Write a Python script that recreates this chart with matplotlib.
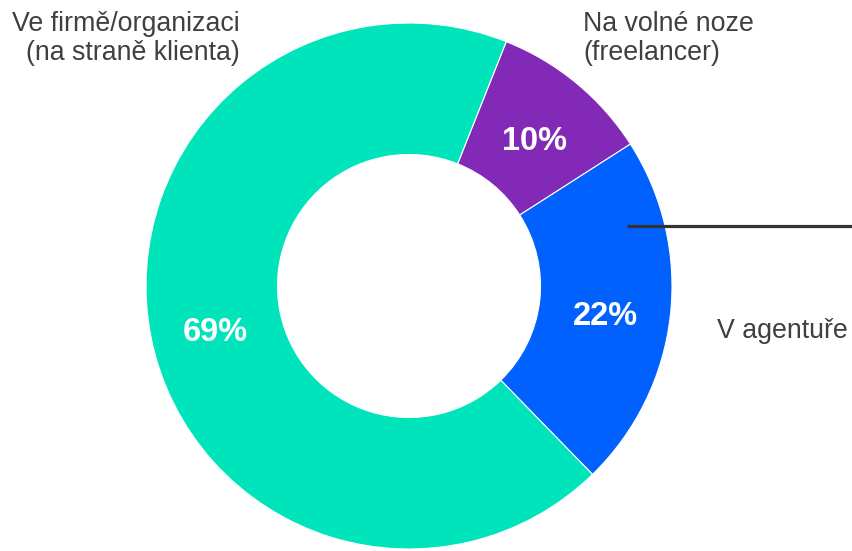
import matplotlib
matplotlib.use("Agg")
from matplotlib import pyplot as plt

plt.rcParams["font.family"] = ["Liberation Sans", "DejaVu Sans"]

# data, clockwise from the top-right
categories = ["Na volné noze\n(freelancer)", "V agentuře", "Ve firmě/organizaci\n(na straně klienta)"]
shares = [10, 22, 69]
colors = ["#8229B8", "#0061FE", "#00E4BC"]

TEXT = "#404040"
R_PX = 263.0  # outer radius in pixels
CX, CY = 409.0, 286.0  # center, pixels from top-left
W, H = 853, 551


def px(x, y):
    # pixel position -> data coordinates (radius 1 == R_PX)
    return (x - CX) / R_PX, (CY - y) / R_PX


fig = plt.figure(figsize=(W / 100, H / 100), dpi=100)
ax = fig.add_axes([0, 0, 1, 1])

pct_labels = iter(f"{s}%" for s in shares)
wedges, _, pcts = ax.pie(
    shares,
    colors=colors,
    startangle=68.3,
    counterclock=False,
    radius=1.0,
    autopct=lambda p: next(pct_labels),
    pctdistance=0.75,
    wedgeprops=dict(width=0.5, edgecolor="white", linewidth=0.8),
    textprops=dict(color="white", fontsize=23.5, fontweight="bold"),
)
# the big slice label sits a bit below its mid angle
x, y = pcts[2].get_position()
pcts[2].set_position((x, -abs(y)))
# nudge all labels down a little
for t in pcts:
    x, y = t.get_position()
    t.set_position((x, y - 8 / R_PX))

x0, y0 = px(0, 0)
x1, y1 = px(W, H)
ax.set_xlim(x0, x1)
ax.set_ylim(y1, y0)
ax.set_aspect("equal")
ax.axis("off")

ax.text(*px(240, 38), categories[2], ha="right", va="center",
        fontsize=19.3, color=TEXT, linespacing=1.15)
ax.text(*px(583, 38), categories[0], ha="left", va="center",
        fontsize=19.3, color=TEXT, linespacing=1.15)
ax.text(*px(848, 331), categories[1], ha="right", va="center",
        fontsize=19.3, color=TEXT)

lx0, ly = px(627, 226)
lx1, _ = px(W, 226)
ax.plot([lx0, lx1], [ly, ly], color="#333333", lw=2.3, solid_capstyle="butt")

fig.savefig("out.png", dpi=100)
